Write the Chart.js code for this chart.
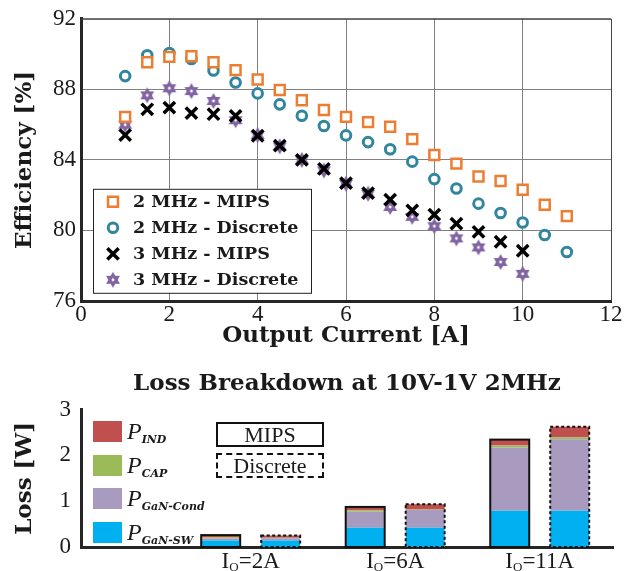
<!DOCTYPE html>
<html lang="en">
<head>
<meta charset="UTF-8">
<title>Efficiency and Loss Breakdown</title>
<script src="https://cdn.jsdelivr.net/npm/chart.js"></script>
<style>
    body {
        margin: 0;
        background: #fff;
        width: 625px;
        height: 571px;
        position: relative;
        overflow: hidden;
        font-family: "Liberation Serif", serif;
        color: #1a1a1a;
    }
    #effChart { position: absolute; left: 0; top: 0; }
    #lossChart { position: absolute; left: 0; top: 355px; }
    .sw { position: absolute; left: 93px; width: 29px; height: 21px; }
    .lbl { position: absolute; left: 127px; font-family: "Liberation Serif", serif; font-style: italic; font-size: 24px; line-height: 23px; }
    .lbl sub { font-family: "DejaVu Serif", serif; font-style: italic; font-weight: bold; font-size: 11px; vertical-align: -4px; }
    .tag { position: absolute; left: 216px; width: 108px; height: 25px; box-sizing: border-box;
           font-family: "Liberation Serif", serif; text-align: center; font-size: 22px; line-height: 22px;
           border: 2px solid #111; }
</style>
</head>
<body>
<canvas id="effChart" width="625" height="350"></canvas>
<canvas id="lossChart" width="625" height="216"></canvas>

<div class="sw" style="top:421px;background:#c0504d"></div>
<div class="lbl" style="top:420px">P<sub>IND</sub></div>
<div class="sw" style="top:455px;background:#9bbb59"></div>
<div class="lbl" style="top:454px">P<sub>CAP</sub></div>
<div class="sw" style="top:488px;background:#a99bc0"></div>
<div class="lbl" style="top:487px">P<sub>GaN-Cond</sub></div>
<div class="sw" style="top:522px;background:#00b0f0"></div>
<div class="lbl" style="top:521px">P<sub>GaN-SW</sub></div>

<div class="tag" style="top:422px">MIPS</div>
<div class="tag" style="top:453px;border-style:dashed">Discrete</div>

<script>
// efficiency vs output current
const currents = [1, 1.5, 2, 2.5, 3, 3.5, 4, 4.5, 5, 5.5, 6, 6.5, 7, 7.5, 8, 8.5, 9, 9.5, 10, 10.5, 11];
const eff2Mips = [86.44, 89.54, 89.84, 89.88, 89.54, 89.09, 88.56, 87.96, 87.38, 86.83, 86.44,
                  86.14, 85.88, 85.18, 84.28, 83.79, 83.06, 82.80, 82.31, 81.46, 80.81];
const eff2Disc = [88.75, 89.93, 90.06, 89.72, 89.07, 88.39, 87.77, 87.15, 86.50, 85.92, 85.39,
                  85.01, 84.60, 83.90, 82.91, 82.38, 81.52, 80.99, 80.45, 79.74, 78.78];
const eff3Mips = [85.41, 86.87, 86.96, 86.65, 86.59, 86.50, 85.37, 84.81, 84.00, 83.49, 82.68,
                  82.12, 81.75, 81.14, 80.90, 80.39, 79.92, 79.36, 78.85];
const eff3Disc = [85.99, 87.66, 88.06, 87.90, 87.34, 86.25, 85.41, 84.77, 84.00, 83.40, 82.65,
                  82.08, 81.33, 80.77, 80.24, 79.55, 79.04, 78.21, 77.54];

// loss breakdown (W) at IO = 2A, 6A, 11A
const loadCurrents = ['2A', '6A', '11A'];
const mipsSw   = [0.14, 0.42, 0.79];
const mipsCond = [0.045, 0.35, 1.38];
const mipsCap  = [0.03, 0.035, 0.045];
const mipsInd  = [0.045, 0.07, 0.13];
const discSw   = [0.14, 0.42, 0.79];
const discCond = [0.05, 0.39, 1.56];
const discCap  = [0.01, 0.01, 0.044];
const discInd  = [0.05, 0.115, 0.23];

const tickFont = { family: 'Liberation Serif', size: 23 };
const titleFont = { family: 'DejaVu Serif', size: 23, weight: 'bold' };
const inkColor = '#1a1a1a';

function pts(vals) {
    return vals.map((v, i) => ({ x: currents[i], y: v }));
}

// six pointed star marker with a small hole
function hexagram(r, color) {
    const c = document.createElement('canvas');
    const s = Math.ceil(r * 2 + 2);
    c.width = c.height = s;
    const g = c.getContext('2d');
    g.fillStyle = color;
    [-Math.PI / 2, Math.PI / 2].forEach(off => {
        g.beginPath();
        for (let k = 0; k < 3; k++) {
            const a = off + k * 2 * Math.PI / 3;
            g.lineTo(s / 2 + r * Math.cos(a), s / 2 + r * Math.sin(a));
        }
        g.closePath();
        g.fill();
    });
    g.fillStyle = '#fff';
    g.beginPath();
    g.arc(s / 2, s / 2, r * 0.18, 0, 2 * Math.PI);
    g.fill();
    return c;
}

// thin frame on top/right like matlab box
const boxFrame = {
    id: 'boxFrame',
    beforeDatasetsDraw(chart) {
        const { ctx, chartArea: a } = chart;
        ctx.save();
        ctx.strokeStyle = '#444';
        ctx.lineWidth = 1;
        ctx.beginPath();
        ctx.moveTo(a.left, a.top + 0.5);
        ctx.lineTo(a.right + 0.5, a.top + 0.5);
        ctx.lineTo(a.right + 0.5, a.bottom);
        ctx.stroke();
        ctx.restore();
    }
};

// legend box inside the plot
const effLegend = {
    id: 'effLegend',
    afterDatasetsDraw(chart) {
        const { ctx, chartArea: a } = chart;
        const x0 = a.left + 12, y0 = a.top + 170, w = 218, h = 104;
        ctx.save();
        ctx.fillStyle = '#fff';
        ctx.fillRect(x0, y0, w, h);
        ctx.strokeStyle = '#222';
        ctx.lineWidth = 1;
        ctx.strokeRect(x0 + 0.5, y0 + 0.5, w, h);
        chart.data.datasets.forEach((ds, i) => {
            const y = y0 + 13 + i * 26;
            ctx.fillStyle = ds.backgroundColor;
            ctx.strokeStyle = ds.borderColor;
            ctx.lineWidth = ds.borderWidth;
            Chart.helpers.drawPoint(ctx, { pointStyle: ds.pointStyle, radius: ds.pointRadius, borderWidth: ds.borderWidth, rotation: 0 }, x0 + 20, y);
            ctx.fillStyle = inkColor;
            ctx.font = 'bold 17.5px "DejaVu Serif"';
            ctx.textBaseline = 'middle';
            ctx.fillText(ds.label, x0 + 40, y + 1);
        });
        ctx.restore();
    }
};

const effChart = new Chart(document.getElementById('effChart'), {
    type: 'scatter',
    data: {
        datasets: [
            { label: '2 MHz - MIPS', data: pts(eff2Mips), pointStyle: 'rect', pointRadius: 7, borderWidth: 2.5,
              borderColor: '#ED7D31', backgroundColor: '#fff' },
            { label: '2 MHz - Discrete', data: pts(eff2Disc), pointStyle: 'circle', pointRadius: 4.8, borderWidth: 3,
              borderColor: '#31859C', backgroundColor: '#fff' },
            { label: '3 MHz - MIPS', data: pts(eff3Mips), pointStyle: 'crossRot', pointRadius: 8, borderWidth: 3.5,
              borderColor: '#000', backgroundColor: '#000' },
            { label: '3 MHz - Discrete', data: pts(eff3Disc), pointStyle: hexagram(8, '#8064A2'), pointRadius: 8, borderWidth: 0,
              borderColor: '#8064A2', backgroundColor: '#8064A2' }
        ]
    },
    options: {
        responsive: false,
        animation: false,
        layout: { padding: { top: 17, right: 14, left: 0, bottom: 0 } },
        plugins: { legend: { display: false }, tooltip: { enabled: false } },
        scales: {
            x: {
                type: 'linear', min: 0, max: 12,
                ticks: { stepSize: 2, font: tickFont, color: inkColor, padding: 0 },
                grid: { color: '#808080', drawTicks: false },
                border: { color: '#262626', width: 3 },
                title: { display: true, text: 'Output Current [A]', font: titleFont, color: inkColor, padding: { top: 0, bottom: 0 } },
                afterFit(s) { s.height = 49; }
            },
            y: {
                min: 76, max: 92,
                ticks: { stepSize: 4, font: tickFont, color: inkColor, padding: 5 },
                grid: { color: '#808080', drawTicks: false },
                border: { color: '#262626', width: 3 },
                title: { display: true, text: 'Efficiency [%]', font: titleFont, color: inkColor, padding: { top: 11, bottom: 0 } },
                afterFit(s) { s.width = 81; }
            }
        }
    },
    plugins: [boxFrame, effLegend]
});

// outline round each whole stack
const stackOutline = {
    id: 'stackOutline',
    afterDatasetsDraw(chart) {
        const ctx = chart.ctx;
        ['MIPS', 'Discrete'].forEach(stack => {
            const metas = chart.getSortedVisibleDatasetMetas().filter(m => m.stack === stack);
            const first = metas[0], last = metas[metas.length - 1];
            first.data.forEach((bar, i) => {
                const top = last.data[i].y;
                const x = bar.x - bar.width / 2;
                ctx.save();
                ctx.strokeStyle = '#111';
                ctx.lineWidth = 2;
                ctx.setLineDash(stack === 'MIPS' ? [] : [3, 2.5]);
                ctx.strokeRect(x, top, bar.width, bar.base - top);
                ctx.restore();
            });
        });
    }
};

// x labels "I_O=..." with subscript
const ioLabels = {
    id: 'ioLabels',
    afterDraw(chart) {
        const { ctx, scales: { x }, chartArea: a } = chart;
        const big = '23px "Liberation Serif"', small = '13px "Liberation Serif"';
        ctx.save();
        ctx.fillStyle = inkColor;
        ctx.textBaseline = 'alphabetic';
        loadCurrents.forEach((c, i) => {
            const cx = x.getPixelForValue(i + 1);
            ctx.font = big;
            const wI = ctx.measureText('I').width, wR = ctx.measureText('=' + c).width;
            ctx.font = small;
            const wO = ctx.measureText('O').width;
            let px = cx - (wI + wO + wR) / 2;
            const y = a.bottom + 21;
            ctx.font = big; ctx.fillText('I', px, y); px += wI;
            ctx.font = small; ctx.fillText('O', px, y + 3); px += wO;
            ctx.font = big; ctx.fillText('=' + c, px, y);
        });
        ctx.restore();
    }
};

function bars(vals) {
    return vals.map((v, i) => ({ x: i + 1, y: v }));
}

const segColors = { sw: '#00b0f0', cond: '#a99bc0', cap: '#9bbb59', ind: '#c0504d' };
function seg(label, stack, vals, color) {
    return { label, stack, data: bars(vals), backgroundColor: color, borderWidth: 0,
             categoryPercentage: 0.83, barPercentage: 0.65 };
}

const lossChart = new Chart(document.getElementById('lossChart'), {
    type: 'bar',
    data: {
        datasets: [
            seg('MIPS GaN-SW', 'MIPS', mipsSw, segColors.sw),
            seg('MIPS GaN-Cond', 'MIPS', mipsCond, segColors.cond),
            seg('MIPS CAP', 'MIPS', mipsCap, segColors.cap),
            seg('MIPS IND', 'MIPS', mipsInd, segColors.ind),
            seg('Discrete GaN-SW', 'Discrete', discSw, segColors.sw),
            seg('Discrete GaN-Cond', 'Discrete', discCond, segColors.cond),
            seg('Discrete CAP', 'Discrete', discCap, segColors.cap),
            seg('Discrete IND', 'Discrete', discInd, segColors.ind)
        ]
    },
    options: {
        responsive: false,
        animation: false,
        layout: { padding: { top: 0, right: 12, left: 0, bottom: 0 } },
        plugins: {
            legend: { display: false },
            tooltip: { enabled: false },
            title: {
                display: true, text: 'Loss Breakdown at 10V-1V 2MHz', fullSize: false,
                font: { family: 'DejaVu Serif', size: 23, weight: 'bold' }, color: inkColor,
                padding: { top: 15, bottom: 12 }
            }
        },
        scales: {
            x: {
                type: 'linear', min: -0.174, max: 3.507, offset: false,
                afterBuildTicks(s) { s.ticks = loadCurrents.map((c, i) => ({ value: i + 1 })); },
                ticks: { display: false },
                grid: { display: false, offset: false },
                border: { color: '#262626', width: 3 },
                afterFit(s) { s.height = 24; }
            },
            y: {
                stacked: true, min: 0, max: 3,
                ticks: { stepSize: 1, font: tickFont, color: inkColor, padding: 10 },
                grid: { display: false, drawTicks: false },
                border: { color: '#262626', width: 3 },
                title: { display: true, text: 'Loss [W]', font: titleFont, color: inkColor, padding: { top: 11, bottom: 0 } },
                afterFit(s) { s.width = 81; }
            }
        }
    },
    plugins: [stackOutline, ioLabels]
});
</script>
</body>
</html>
